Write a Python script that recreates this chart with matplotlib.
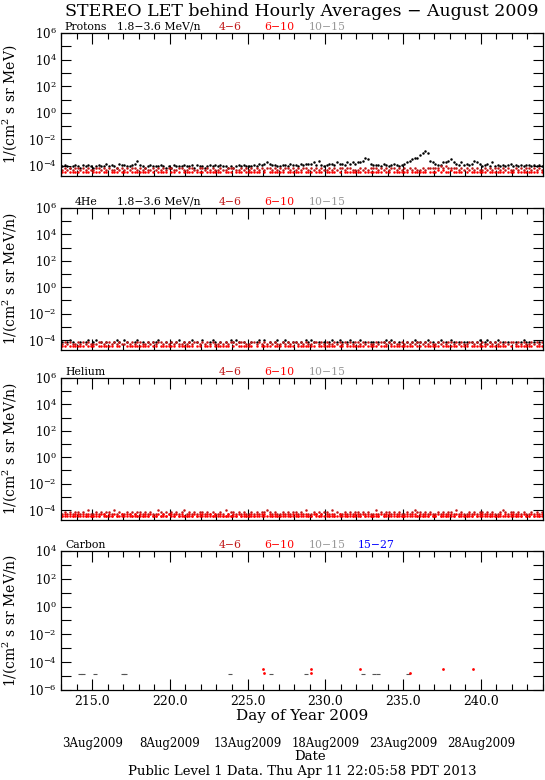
import numpy as np
import matplotlib
matplotlib.use("Agg")
import matplotlib.pyplot as plt
import matplotlib.transforms as mtransforms
from matplotlib.ticker import FixedLocator, FuncFormatter, MultipleLocator, LogLocator, NullFormatter

plt.rcParams['font.family'] = 'DejaVu Serif'
plt.rcParams['mathtext.fontset'] = 'dejavuserif'

# codes for the hourly-average flux (4-hour steps, 6 per day)
# value = unit * LEVEL[code], '0' = no point
LEVEL = {'0': 0, '1': 1, '2': 1.5, '3': 2, '4': 3, '5': 4, '6': 5, '7': 6, '8': 8,
         '9': 10, 'a': 13, 'b': 16, 'c': 20, 'd': 25, 'e': 30, 'f': 40, 'g': 50}
unit = 2.5e-5
day0 = 213.0

# Protons
p_low = ["565456", "546565", "456557", "565476", "655679", "654565", "556545", "465556",
         "556465", "545656", "565545", "456565", "556576", "787665", "566576", "657677",
         "786965", "677687", "768787", "889ba7", "666576", "567656", "789abb", "dfgf98",
         "766889", "a87686", "767987", "567585", "656567", "565656", "656565"]
p_46 = ["343434", "434343", "344343", "433434", "343443", "434334", "343434", "433443",
        "344334", "434343", "343344", "433434", "343434", "344343", "434434", "343443",
        "434343", "343434", "434433", "343434", "443434", "344343", "434343", "343444",
        "445454", "444343", "434343", "343434", "434343", "343434", "434343"]
p_610 = ["220222", "202220", "222022", "022202", "220222", "222202", "022220", "220202",
         "222022", "202222", "220222", "022202", "222220", "202222", "220222", "222022",
         "202220", "222202", "022222", "220222", "222202", "202222", "220222", "222022",
         "232322", "322220", "202222", "220222", "222022", "202222", "222202"]

# 4He
he4_low = ["404540", "040450", "450404", "004540", "540045", "040404", "450040", "404504",
           "045040", "500454", "040405", "454040", "040450", "504045", "045404", "404054",
           "540404", "045045", "404540", "050404", "404045", "454040", "040454", "404504",
           "045040", "540404", "404045", "045404", "504040", "040454", "404040"]
he4_46 = ["343433", "434343", "334434", "434343", "343434", "433434", "344343", "434334",
          "343443", "434343", "343434", "434443", "344343", "434343", "343434", "434343",
          "344343", "433434", "343434", "434343", "343443", "434334", "343434", "434343",
          "343434", "434343", "344343", "433434", "343434", "434343", "343434"]
he4_610 = ["220222", "222022", "202222", "220220", "022222", "222202", "202222", "220222",
           "222022", "022202", "222220", "202222", "220202", "222022", "202222", "022222",
           "220222", "222202", "202222", "222022", "220222", "022222", "222202", "202222",
           "220222", "222022", "202222", "220222", "222202", "022222", "220222"]

# Helium
he_46 = ["343434", "434353", "343434", "435343", "343434", "434343", "354343", "434345",
         "343434", "434343", "343534", "434343", "343434", "454343", "343434", "434353",
         "343434", "435343", "343434", "434343", "353434", "434343", "343454", "434343",
         "343434", "435343", "343434", "434343", "345434", "434343", "343434"]
he_610 = ["232323", "323232", "232332", "323223", "233232", "323232", "232323", "323232",
          "232323", "323323", "232232", "323232", "232323", "323232", "232323", "323232",
          "233232", "323223", "232323", "323232", "232323", "323232", "232332", "323232",
          "232323", "323232", "232323", "323232", "232323", "323232", "232323"]
he_low = ["220222", "202222", "222022", "220202", "022222", "222202", "202220", "220222",
          "222022", "202222", "022222", "220222", "222202", "202222", "220222", "222022",
          "202220", "222202", "022222", "220222", "222022", "202222", "220222", "222202",
          "202222", "220222", "222022", "202222", "220222", "222202", "202222"]

# Carbon: individual points (day, flux)
c_gray_day = [214.2, 214.4, 215.2, 217.0, 217.1, 223.9, 226.5, 228.75, 232.4, 233.1, 233.4, 235.3]
c_gray_val = [1.35e-5] * 12
c_red_day = [226.0, 226.05, 229.1, 229.1, 232.2, 235.45, 237.6, 239.5]
c_red_val = [3.2e-5, 1.6e-5, 3.2e-5, 1.6e-5, 3.2e-5, 1.6e-5, 3.2e-5, 3.2e-5]

date_days = [215, 220, 225, 230, 235, 240]
date_labels = ["3Aug2009", "8Aug2009", "13Aug2009", "18Aug2009", "23Aug2009", "28Aug2009"]

DARKRED = '#c01818'
RED = '#ff0000'
GRAY = '#999999'
BLUE = '#0000ff'


def decode(groups):
    codes = "".join(groups)
    t = day0 + (np.arange(len(codes)) + 0.5) / 6.0
    v = np.array([LEVEL[c] for c in codes]) * unit
    ok = v > 0
    return t[ok], v[ok]


W, H = 545, 780
fig = plt.figure(figsize=(W / 100, H / 100), dpi=100)

panels = [(33, 176), (208, 350), (378, 520), (551, 690)]
axes = []
for top, bot in panels:
    ax = fig.add_axes([61 / W, 1 - bot / H, 482 / W, (bot - top) / H])
    axes.append(ax)


def style(ax, ylo, yhi, carbon=False):
    ax.set_yscale('log')
    ax.set_xlim(213, 244)
    ax.set_ylim(ylo, yhi)
    decs = [10.0 ** k for k in range(-6, 7)]
    ax.yaxis.set_major_locator(FixedLocator(decs))
    ax.yaxis.set_major_formatter(FuncFormatter(
        lambda v, p: r'$10^{%d}$' % round(np.log10(v)) if round(np.log10(v)) % 2 == 0 else ''))
    if carbon:
        ax.yaxis.set_minor_locator(LogLocator(base=10, subs=np.arange(2, 10)))
    else:
        ax.yaxis.set_minor_locator(FixedLocator([]))
    ax.yaxis.set_minor_formatter(NullFormatter())
    ax.xaxis.set_major_locator(MultipleLocator(5))
    ax.xaxis.set_minor_locator(MultipleLocator(1))
    ax.xaxis.set_major_formatter(FuncFormatter(lambda v, p: '%.1f' % v))
    ax.tick_params(which='both', direction='in', top=True, right=True, width=0.8)
    ax.tick_params(axis='x', which='major', length=8)
    ax.tick_params(axis='x', which='minor', length=4.5)
    ax.tick_params(axis='y', which='major', length=7)
    ax.tick_params(axis='y', which='minor', length=3)
    ax.tick_params(axis='y', labelsize=8.5, pad=3)
    ax.tick_params(axis='x', labelsize=9)
    for s in ax.spines.values():
        s.set_linewidth(0.9)


def header(ax, items):
    for x, txt, col in items:
        ax.text((x - 61) / 482, 1.01, txt, color=col, fontsize=7.8,
                transform=ax.transAxes, ha='left', va='bottom')


ms = 1.8
ax1, ax2, ax3, ax4 = axes

# Protons
t, v = decode(p_low)
ax1.plot(t, v, 'o', color='black', ms=ms, mew=0)
t, v = decode(p_46)
ax1.plot(t, v, 'o', color=DARKRED, ms=ms, mew=0)
t, v = decode(p_610)
ax1.plot(t, v, 'o', color=RED, ms=ms, mew=0)
style(ax1, 10 ** -4.75, 1e6)
header(ax1, [(64, 'Protons', 'black'), (117, '1.8\u22123.6 MeV/n', 'black'),
             (219, '4\u22126', DARKRED), (264, '6\u221210', RED), (309, '10\u221215', GRAY)])
ax1.set_ylabel('1/(cm$^2$ s sr MeV)', fontsize=10)

# 4He
t, v = decode(he4_low)
ax2.plot(t, v, 'o', color='black', ms=ms, mew=0)
t, v = decode(he4_46)
ax2.plot(t, v, 'o', color=DARKRED, ms=ms, mew=0)
t, v = decode(he4_610)
ax2.plot(t, v, 'o', color=RED, ms=ms, mew=0)
style(ax2, 10 ** -4.75, 1e6)
header(ax2, [(75, '4He', 'black'), (117, '1.8\u22123.6 MeV/n', 'black'),
             (219, '4\u22126', DARKRED), (264, '6\u221210', RED), (309, '10\u221215', GRAY)])
ax2.set_ylabel('1/(cm$^2$ s sr MeV/n)', fontsize=10)

# Helium
t, v = decode(he_46)
ax3.plot(t, v, 'o', color=DARKRED, ms=ms, mew=0)
t, v = decode(he_610)
ax3.plot(t, v, 'o', color=RED, ms=ms, mew=0)
t, v = decode(he_low)
ax3.plot(t, v, 'o', color=RED, ms=ms, mew=0)
style(ax3, 10 ** -4.75, 1e6)
header(ax3, [(65, 'Helium', 'black'), (219, '4\u22126', DARKRED), (264, '6\u221210', RED),
             (309, '10\u221215', GRAY)])
ax3.set_ylabel('1/(cm$^2$ s sr MeV/n)', fontsize=10)

# Carbon
ax4.plot(c_gray_day, c_gray_val, '_', color='#555555', ms=3, mew=0.8)
ax4.plot(c_red_day, c_red_val, 'o', color=RED, ms=2, mew=0)
style(ax4, 1e-6, 1e4, carbon=True)
header(ax4, [(65, 'Carbon', 'black'), (219, '4\u22126', DARKRED), (264, '6\u221210', RED),
             (309, '10\u221215', GRAY), (358, '15\u221227', BLUE)])
ax4.set_ylabel('1/(cm$^2$ s sr MeV/n)', fontsize=10)

for ax in axes:
    ax.yaxis.set_label_coords(-0.088, 0.5)
for ax in axes[:3]:
    ax.tick_params(axis='x', labelbottom=False)

ax4.set_xlabel('Day of Year 2009', fontsize=11, labelpad=1)

tr = mtransforms.blended_transform_factory(ax4.transData, fig.transFigure)
for d, lab in zip(date_days, date_labels):
    ax4.text(d, 1 - 743 / H, lab, transform=tr, ha='center', va='center', fontsize=8.5)
ax4.text(229.0, 1 - 757 / H, 'Date', transform=tr, ha='center', va='center', fontsize=9.5)
fig.text(302 / W, 1 - 772 / H, 'Public Level 1 Data. Thu Apr 11 22:05:58 PDT 2013',
         ha='center', va='center', fontsize=9.5)
fig.text(302 / W, 1 - 12 / H, 'STEREO LET behind Hourly Averages \u2212 August 2009',
         ha='center', va='center', fontsize=12.5)

fig.savefig('out.png', dpi=100)
